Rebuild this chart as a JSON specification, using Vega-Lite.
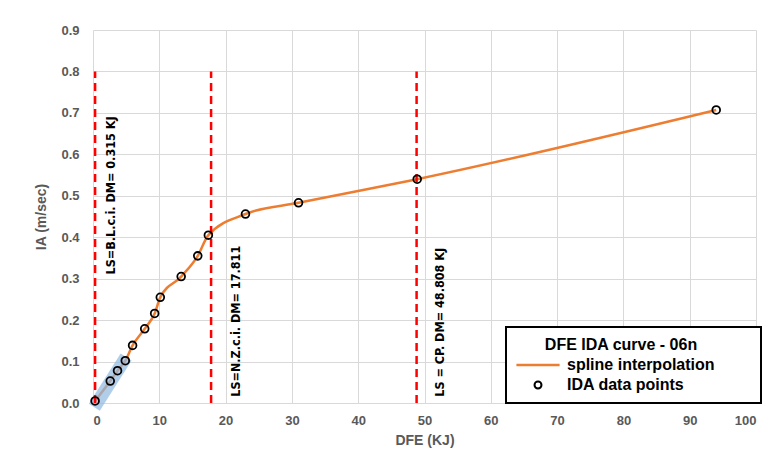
{
  "$schema": "https://vega.github.io/schema/vega-lite/v6.json",
  "width": 663,
  "height": 373,
  "autosize": {"type": "none"},
  "padding": {"left": 93, "top": 30, "right": 21, "bottom": 65},
  "background": "white",
  "config": {
    "view": {"stroke": null},
    "font": "Liberation Sans",
    "axis": {
      "domain": false,
      "ticks": false,
      "grid": true,
      "gridColor": "#d9d9d9",
      "gridWidth": 1,
      "labelColor": "#595959",
      "labelFont": "Liberation Sans",
      "labelFontWeight": "bold",
      "labelFontSize": 13,
      "titleColor": "#595959",
      "titleFont": "Liberation Sans",
      "titleFontWeight": "bold",
      "titleFontSize": 14
    }
  },
  "datasets": {
    "points": [
      {"dfe": 0.315, "ia": 0.005},
      {"dfe": 2.6, "ia": 0.053},
      {"dfe": 3.7, "ia": 0.078},
      {"dfe": 4.87, "ia": 0.102},
      {"dfe": 5.97, "ia": 0.139},
      {"dfe": 7.8, "ia": 0.179},
      {"dfe": 9.3, "ia": 0.216},
      {"dfe": 10.15, "ia": 0.255},
      {"dfe": 13.3, "ia": 0.305},
      {"dfe": 15.8, "ia": 0.355},
      {"dfe": 17.4, "ia": 0.405},
      {"dfe": 23.0, "ia": 0.456},
      {"dfe": 31.0, "ia": 0.483},
      {"dfe": 48.9, "ia": 0.54},
      {"dfe": 94.0, "ia": 0.707}
    ],
    "band": [
      {"dfe": 0.2, "ia": -0.01},
      {"dfe": 5.0, "ia": 0.111}
    ],
    "limits": [
      {"dfe": 0.315, "lx": 2.7, "ly": 0.31, "label": "LS=B.L.c.i. DM= 0.315 KJ"},
      {"dfe": 17.811, "lx": 21.5, "ly": 0.015, "label": "LS=N.Z.c.i. DM= 17.811"},
      {"dfe": 48.808, "lx": 52.4, "ly": 0.015, "label": "LS = CP. DM= 48.808 KJ"}
    ]
  },
  "layer": [
    {
      "data": {"name": "points"},
      "mark": {"type": "line", "interpolate": "monotone", "strokeWidth": 2.5},
      "encoding": {
        "x": {"field": "dfe", "type": "quantitative",
          "scale": {"domain": [0, 100], "nice": false},
          "axis": {"title": "DFE (KJ)", "values": [0,10,20,30,40,50,60,70,80,90,100], "labelPadding": 11, "titlePadding": 6}},
        "y": {"field": "ia", "type": "quantitative",
          "scale": {"domain": [0, 0.9], "nice": false},
          "axis": {"title": "IA (m/sec)", "values": [0,0.1,0.2,0.3,0.4,0.5,0.6,0.7,0.8,0.9], "format": ".1f", "labelPadding": 14, "titlePadding": 12}},
        "color": {"datum": "spline interpolation", "type": "nominal",
          "scale": {"domain": ["spline interpolation", "IDA data points"], "range": ["#ED7D31", "black"]},
          "legend": {
            "title": "DFE IDA curve - 06n\u2800\u2800",
            "orient": "none",
            "legendX": 413,
            "legendY": 297,
            "strokeColor": "black",
            "fillColor": "white",
            "padding": 10,
            "titleAnchor": "middle",
            "titleFont": "Liberation Sans",
            "titleFontSize": 16,
            "titleFontWeight": "bold",
            "titleColor": "black",
            "titlePadding": 4,
            "labelFont": "Liberation Sans",
            "labelFontSize": 16,
            "labelFontWeight": "bold",
            "labelColor": "black",
            "labelOffset": 21,
            "symbolOffset": 14,
            "labelLimit": 400,
            "labelExpr": "datum.label + '\u2800\u2800\u2800'",
            "rowPadding": 4,
            "symbolSize": 144,
            "symbolStrokeWidth": 2.2,
            "encode": {
              "legend": {"update": {"strokeWidth": {"value": 2}}},
              "symbols": {
                "update": {
                  "shape": {"signal": "datum.value == 'IDA data points' ? 'M-0.58,0A0.58,0.58 0 1,0 0.58,0A0.58,0.58 0 1,0 -0.58,0Z' : 'M-3.6,0H3.6'"},
                  "stroke": {"signal": "datum.value == 'IDA data points' ? 'black' : '#ED7D31'"},
                  "strokeWidth": {"signal": "datum.value == 'IDA data points' ? 2 : 2.5"},
                  "fill": {"value": "transparent"}
                }
              }
            }
          }
        }
      }
    },
    {
      "data": {"name": "band"},
      "mark": {"type": "line", "strokeWidth": 13, "strokeCap": "butt", "color": "#8fb8e0", "opacity": 0.7},
      "encoding": {
        "x": {"field": "dfe", "type": "quantitative"},
        "y": {"field": "ia", "type": "quantitative"}
      }
    },
    {
      "data": {"name": "limits"},
      "mark": {"type": "rule", "color": "#ff0000", "strokeWidth": 2.5, "strokeDash": [8, 5]},
      "encoding": {
        "x": {"field": "dfe", "type": "quantitative"},
        "y": {"datum": 0},
        "y2": {"datum": 0.8}
      }
    },
    {
      "data": {"name": "points"},
      "mark": {"type": "point", "filled": false, "size": 60, "strokeWidth": 1.8, "opacity": 1},
      "encoding": {
        "x": {"field": "dfe", "type": "quantitative"},
        "y": {"field": "ia", "type": "quantitative"},
        "color": {"datum": "IDA data points", "type": "nominal"}
      }
    },
    {
      "data": {"name": "limits"},
      "mark": {"type": "text", "angle": 270, "align": "left", "baseline": "middle", "font": "'DejaVu Sans Condensed', 'Liberation Sans', sans-serif", "fontStretch": "condensed", "fontWeight": "bold", "fontSize": 12.5, "color": "black"},
      "encoding": {
        "x": {"field": "lx", "type": "quantitative"},
        "y": {"field": "ly", "type": "quantitative"},
        "text": {"field": "label"}
      }
    }
  ]
}
